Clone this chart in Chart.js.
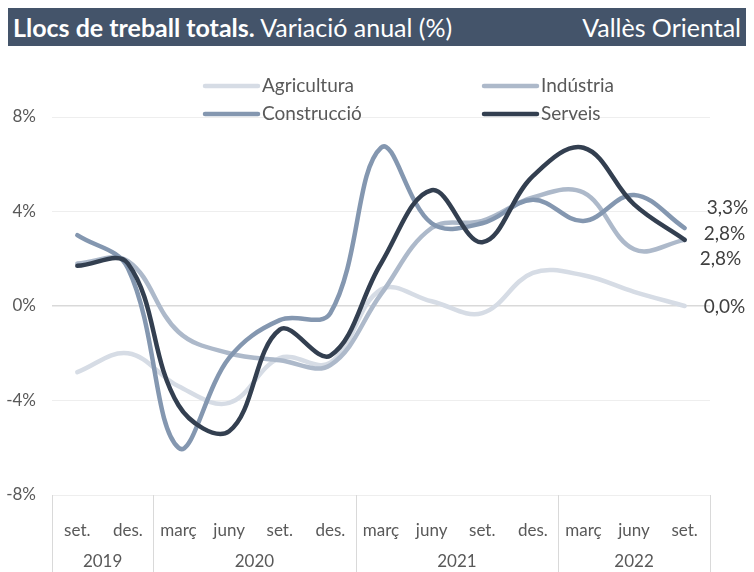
<!DOCTYPE html>
<html>
<head>
<meta charset="utf-8">
<script src="https://cdn.jsdelivr.net/npm/chart.js@4/dist/chart.umd.min.js"></script>
<style>
  html, body { margin: 0; padding: 0; background: #fff; }
  #wrap { position: relative; width: 754px; height: 572px; }
  #title {
    position: absolute; left: 8px; top: 8px; width: 738px; height: 38px;
    background: #44546A; color: #fff; font-family: Lato, sans-serif;
    font-size: 25px; line-height: 38px;
  }
  #title .l { position: absolute; left: 5px; }
  #title .r { position: absolute; right: 5px; }
  #title b { font-weight: 700; }
  canvas { position: absolute; left: 0; top: 0; }
</style>
</head>
<body>
<div id="wrap">
  <canvas id="chart" width="754" height="572"></canvas>
  <div id="title"><span class="l"><b>Llocs de treball totals.</b> Variació anual (%)</span><span class="r">Vallès Oriental</span></div>
</div>
<script>
// quarters
const months = ['set.', 'des.', 'març', 'juny', 'set.', 'des.', 'març', 'juny', 'set.', 'des.', 'març', 'juny', 'set.'];
const quarterYears = ['2019', '2019', '2020', '2020', '2020', '2020', '2021', '2021', '2021', '2021', '2022', '2022', '2022'];
const yTicks = [-8, -4, 0, 4, 8];

// series (% annual change)
const agricultura = [-2.8, -2.0, -3.4, -4.1, -2.2, -2.4, 0.7, 0.2, -0.3, 1.4, 1.3, 0.6, 0.0];
const industria = [1.8, 1.9, -1.1, -2.0, -2.3, -2.5, 0.5, 3.3, 3.6, 4.6, 4.8, 2.4, 2.8];
const construccio = [3.0, 1.6, -6.0, -2.2, -0.6, -0.3, 6.7, 3.5, 3.5, 4.5, 3.6, 4.7, 3.3];
const serveis = [1.7, 1.8, -4.2, -5.3, -1.0, -2.1, 1.8, 4.9, 2.7, 5.5, 6.7, 4.3, 2.8];

const textColor = '#595959';
const font = 'Lato, sans-serif';

const legendPlugin = {
  id: 'twoColLegend',
  afterDraw(chart) {
    const ctx = chart.ctx;
    const cols = [203, 482], rows = [86, 114];
    ctx.save();
    chart.data.datasets.forEach((ds, i) => {
      const x = cols[i % 2], y = rows[Math.floor(i / 2)];
      ctx.strokeStyle = ds.borderColor;
      ctx.lineWidth = 4.5;
      ctx.lineCap = 'round';
      ctx.beginPath();
      ctx.moveTo(x + 2, y);
      ctx.lineTo(x + 55, y);
      ctx.stroke();
      ctx.fillStyle = textColor;
      ctx.font = '19px ' + font;
      ctx.textBaseline = 'middle';
      ctx.textAlign = 'left';
      ctx.fillText(ds.label, x + 59, y);
    });
    ctx.restore();
  }
};

const endLabelPlugin = {
  id: 'endLabels',
  afterDatasetsDraw(chart) {
    const ctx = chart.ctx;
    const offsets = { 'Agricultura': [19, 1], 'Indústria': [15, 19], 'Construcció': [22, -20], 'Serveis': [19, -6] };
    ctx.save();
    ctx.font = '19px ' + font;
    ctx.fillStyle = '#404040';
    ctx.textBaseline = 'middle';
    ctx.textAlign = 'left';
    chart.data.datasets.forEach((ds, i) => {
      const meta = chart.getDatasetMeta(i);
      const pt = meta.data[meta.data.length - 1];
      const v = ds.data[ds.data.length - 1];
      const o = offsets[ds.label];
      ctx.fillText(v.toFixed(1).replace('.', ',') + '%', pt.x + o[0], pt.y + o[1]);
    });
    ctx.restore();
  }
};

const yearAxisPlugin = {
  id: 'yearAxis',
  afterDraw(chart) {
    const ctx = chart.ctx;
    const xs = chart.scales.x;
    const area = chart.chartArea;
    const half = (xs.getPixelForValue(1) - xs.getPixelForValue(0)) / 2;
    ctx.save();
    ctx.strokeStyle = '#d9d9d9';
    ctx.lineWidth = 1;
    ctx.font = '17px ' + font;
    ctx.fillStyle = textColor;
    ctx.textAlign = 'center';
    ctx.textBaseline = 'middle';
    let start = 0;
    for (let i = 0; i <= quarterYears.length; i++) {
      if (i === quarterYears.length || quarterYears[i] !== quarterYears[start]) {
        const x0 = xs.getPixelForValue(start) - half;
        const x1 = xs.getPixelForValue(i - 1) + half;
        ctx.fillText(quarterYears[start], (x0 + x1) / 2, 562);
        start = i;
      }
      if (i === 0 || i === quarterYears.length || quarterYears[i] !== quarterYears[i - 1]) {
        const x = Math.round(xs.getPixelForValue(Math.min(i, quarterYears.length - 1)) + (i === quarterYears.length ? half : -half)) + 0.5;
        ctx.beginPath();
        ctx.moveTo(x, area.bottom);
        ctx.lineTo(x, 572);
        ctx.stroke();
      }
    }
    ctx.restore();
  }
};

function series(label, data, color, order) {
  return {
    label, data, order,
    borderColor: color,
    backgroundColor: color,
    borderWidth: 4.5,
    borderCapStyle: 'round',
    borderJoinStyle: 'round',
    pointRadius: 0,
    tension: 0.38,
    fill: false
  };
}

new Chart(document.getElementById('chart'), {
  type: 'line',
  data: {
    labels: months,
    datasets: [
      series('Agricultura', agricultura, '#d6dce5', 3),
      series('Indústria', industria, '#adb9ca', 2),
      series('Construcció', construccio, '#8497b0', 1),
      series('Serveis', serveis, '#333f50', 0)
    ]
  },
  options: {
    responsive: false,
    animation: false,
    layout: { padding: { top: 117, right: 44, left: 0, bottom: 0 } },
    plugins: { legend: { display: false }, tooltip: { enabled: false } },
    scales: {
      x: {
        offset: true,
        grid: { display: false },
        border: { display: false },
        ticks: { color: textColor, font: { family: font, size: 17 }, padding: 17, maxRotation: 0, autoSkip: false },
        afterFit: s => { s.height = 77; }
      },
      y: {
        min: -8, max: 8,
        afterBuildTicks: s => { s.ticks = yTicks.map(v => ({ value: v })); },
        grid: {
          drawTicks: false,
          color: c => c.tick.value === 0 ? '#d9d9d9' : '#eeeeee',
          lineWidth: c => c.tick.value === 0 ? 1.5 : 1
        },
        border: { display: false },
        ticks: { color: textColor, font: { family: font, size: 17 }, padding: 16, callback: v => v + '%' },
        afterFit: s => { s.width = 52; }
      }
    }
  },
  plugins: [legendPlugin, endLabelPlugin, yearAxisPlugin]
});
</script>
</body>
</html>
